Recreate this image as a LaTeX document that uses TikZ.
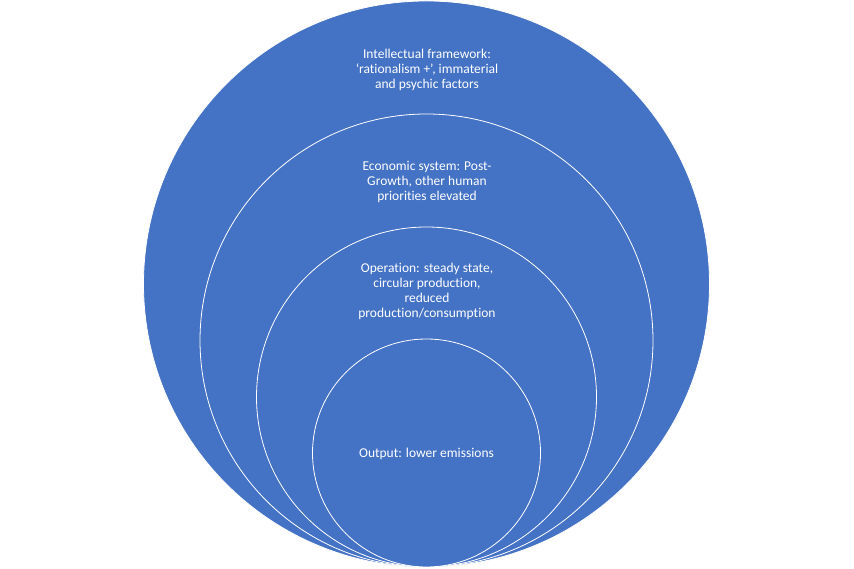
\documentclass[tikz,border=0pt]{standalone}
\usepackage{fontspec}
\setmainfont{Carlito}[Ligatures={NoCommon}]
\definecolor{ringblue}{HTML}{4472C4}

\begin{document}
\begin{tikzpicture} [x=1pt, y=1pt, text=white, font=\fontsize{13.5}{15}\selectfont]
  \tikzstyle{ring}=[circle, fill=ringblue, draw=white, line width=0.8pt, inner sep=0pt]
  \tikzstyle{annot} = [align=center, inner sep=0pt]

  \useasboundingbox (0,0) rectangle (854,569);

  % nested rings, all touching at the bottom
  \node[ring, minimum size=566pt] (frame) at (426.5,285) {};
  \node[ring, minimum size=453pt] (econ) at (426.5,228.5) {};
  \node[ring, minimum size=340pt] (oper) at (426.5,172) {};
  \node[ring, minimum size=228pt] (out) at (426.5,116) {};

  \node[annot] (tframe) at (427,499) {Intellectual framework:\\‘rationalism +’, immaterial\\and psychic factors};
  \node[annot] (tecon) at (427,387) {Economic system: Post-\\Growth, other human\\priorities elevated};
  \node[annot] (toper) at (427,278) {Operation: steady state,\\circular production,\\reduced\\production/consumption};
  \node[annot] (tout) at (426.5,115) {Output: lower emissions};

\end{tikzpicture}
\end{document}
